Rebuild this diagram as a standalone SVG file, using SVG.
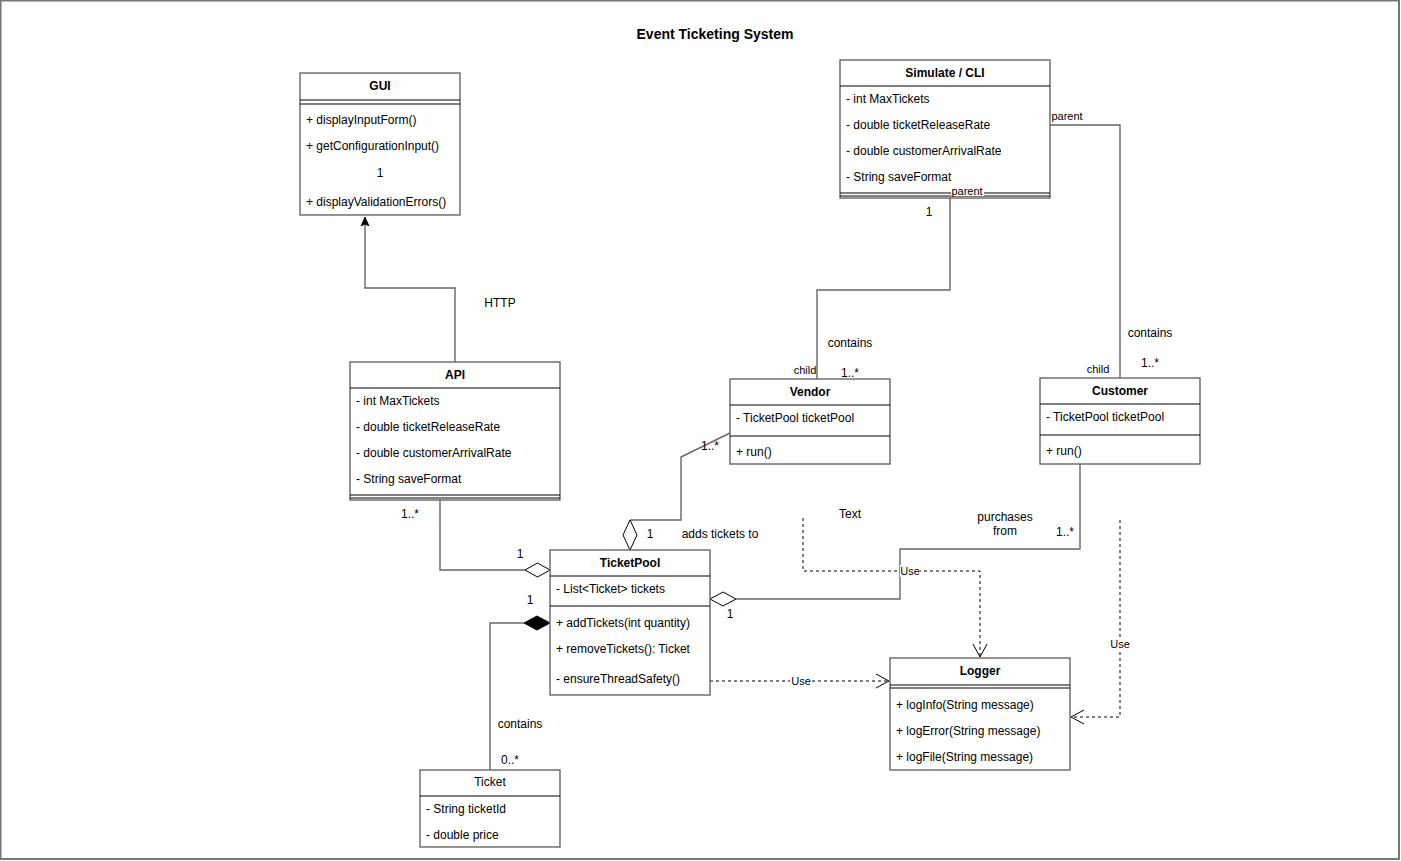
<svg xmlns="http://www.w3.org/2000/svg" width="1401" height="861" viewBox="0 0 1401 861">
  <defs>
    <style>
      text { font-family: "Liberation Sans", Arial, sans-serif; font-size: 12px; fill: #000; dominant-baseline: central; }
      .title { font-size: 14px; font-weight: bold; text-anchor: middle; }
      .hd { font-weight: bold; text-anchor: middle; }
      .mid { text-anchor: middle; }
      .box { fill: #fff; stroke: #666; stroke-width: 1.4; }
      .sep { stroke: #000; stroke-width: 1; }
      .edge { fill: none; stroke: #666; stroke-width: 1.4; }
      .dash { fill: none; stroke: #000; stroke-width: 1; stroke-dasharray: 3 3; }
      .lbg { fill: #fff; }
    </style>
    <marker id="openArrow" markerWidth="16" markerHeight="16" refX="14" refY="8" orient="auto" markerUnits="userSpaceOnUse">
      <path d="M1,1 L14,8 L1,15" fill="none" stroke="#000" stroke-width="1"/>
    </marker>
    <marker id="blockArrow" markerWidth="10" markerHeight="10" refX="9" refY="5" orient="auto" markerUnits="userSpaceOnUse">
      <path d="M0,1 L9,5 L0,9 L2,5 Z" fill="#000" stroke="#000" stroke-width="0.8"/>
    </marker>
  </defs>

  <rect x="0" y="0" width="1401" height="861" fill="#fff"/>
  <rect x="0.5" y="0.5" width="1398.5" height="858.5" fill="none" stroke="#777" stroke-width="2"/>

  <text class="title" x="715" y="34">Event Ticketing System</text>

  <!-- connectors -->
  <g id="connectors">
    <!-- API to GUI (HTTP) -->
    <path class="edge" d="M455,362 L455,288 L365,288 L365,217" marker-end="url(#blockArrow)"/>
    <text class="mid" x="500" y="303">HTTP</text>

    <!-- API aggregated by TicketPool -->
    <path class="edge" d="M440,500 L440,570 L525,570"/>
    <path d="M550,570 L537.5,563 L525,570 L537.5,577 Z" fill="#fff" stroke="#000" stroke-width="1"/>
    <text class="mid" x="410" y="514">1..*</text>
    <text class="mid" x="520" y="554">1</text>

    <!-- Vendor adds tickets to TicketPool -->
    <path class="edge" d="M730,433 L681,457 L681,520 L630,520"/>
    <path d="M630,520 L623,535 L630,550 L637,535 Z" fill="#fff" stroke="#000" stroke-width="1"/>
    <text class="mid" x="710" y="446">1..*</text>
    <text class="mid" x="650" y="534">1</text>
    <text class="mid" x="720" y="534">adds tickets to</text>

    <!-- Simulate/CLI contains Vendor -->
    <path class="edge" d="M950,198 L950,290 L817,290 L817,379"/>
    <text class="mid" x="929" y="212">1</text>
    <text class="mid" x="850" y="343">contains</text>
    <text class="mid" x="805" y="370" style="font-size:11px">child</text>
    <text class="mid" x="850" y="373">1..*</text>

    <!-- Simulate/CLI contains Customer -->
    <path class="edge" d="M1050,125 L1120,125 L1120,378"/>
    <text class="mid" x="1067" y="116" style="font-size:11px">parent</text>
    <text class="mid" x="1150" y="333">contains</text>
    <text class="mid" x="1098" y="369" style="font-size:11px">child</text>
    <text class="mid" x="1150" y="363">1..*</text>

    <!-- Customer purchases from TicketPool -->
    <path class="edge" d="M1080,464 L1080,549 L900,549 L900,599 L736,599"/>
    <path d="M710,599 L723,592 L736,599 L723,606 Z" fill="#fff" stroke="#000" stroke-width="1"/>
    <text class="mid" x="730" y="614">1</text>
    <text class="mid" x="1005" y="517">purchases</text>
    <text class="mid" x="1005" y="531">from</text>
    <text class="mid" x="1065" y="532">1..*</text>

    <!-- TicketPool composes Ticket -->
    <path class="edge" d="M490,770 L490,623 L524,623"/>
    <path d="M550,623 L537,616 L524,623 L537,630 Z" fill="#000" stroke="#000" stroke-width="1"/>
    <text class="mid" x="530" y="600">1</text>
    <text class="mid" x="520" y="724">contains</text>
    <text class="mid" x="510" y="760">0..*</text>

    <!-- TicketPool uses Logger -->
    <path class="dash" d="M710,681 L889,681" marker-end="url(#openArrow)"/>
    <rect class="lbg" x="790" y="675" width="22" height="12"/>
    <text class="mid" x="801" y="681" style="font-size:11px">Use</text>

    <!-- free dependency from Text to Logger -->
    <text class="mid" x="850" y="514">Text</text>
    <path class="dash" d="M803,518 L803,571 L980,571 L980,657" marker-end="url(#openArrow)"/>
    <rect class="lbg" x="900" y="565" width="20" height="12"/>
    <text class="mid" x="910" y="571" style="font-size:11px">Use</text>

    <!-- right dependency to Logger -->
    <path class="dash" d="M1120,520 L1120,717 L1071,717" marker-end="url(#openArrow)"/>
    <rect class="lbg" x="1109" y="638" width="22" height="12"/>
    <text class="mid" x="1120" y="644" style="font-size:11px">Use</text>
  </g>

  <!-- GUI -->
  <g id="gui">
    <rect class="box" x="300" y="73" width="160" height="142"/>
    <text class="hd" x="380" y="86">GUI</text>
    <line class="sep" x1="300" y1="100" x2="460" y2="100"/>
    <line class="sep" x1="300" y1="104" x2="460" y2="104"/>
    <text x="306" y="120">+ displayInputForm()</text>
    <text x="306" y="146">+ getConfigurationInput()</text>
    <text class="mid" x="380" y="173">1</text>
    <text x="306" y="202">+ displayValidationErrors()</text>
  </g>

  <!-- Simulate / CLI -->
  <g id="simulate-cli">
    <rect class="box" x="840" y="60" width="210" height="138"/>
    <text class="hd" x="945" y="73">Simulate / CLI</text>
    <line class="sep" x1="840" y1="86" x2="1050" y2="86"/>
    <text x="846" y="99">- int MaxTickets</text>
    <text x="846" y="125">- double ticketReleaseRate</text>
    <text x="846" y="151">- double customerArrivalRate</text>
    <text x="846" y="177">- String saveFormat</text>
    <line class="sep" x1="840" y1="193" x2="1050" y2="193"/>
    <line class="sep" x1="840" y1="196" x2="1050" y2="196"/>
    <!-- role label of the Vendor association, sitting on the bottom edge -->
    <rect class="lbg" x="951" y="185" width="33" height="11"/>
    <text class="mid" x="967" y="191" style="font-size:11px">parent</text>
  </g>

  <!-- API -->
  <g id="api">
    <rect class="box" x="350" y="362" width="210" height="138"/>
    <text class="hd" x="455" y="375">API</text>
    <line class="sep" x1="350" y1="388" x2="560" y2="388"/>
    <text x="356" y="401">- int MaxTickets</text>
    <text x="356" y="427">- double ticketReleaseRate</text>
    <text x="356" y="453">- double customerArrivalRate</text>
    <text x="356" y="479">- String saveFormat</text>
    <line class="sep" x1="350" y1="495" x2="560" y2="495"/>
    <line class="sep" x1="350" y1="498" x2="560" y2="498"/>
  </g>

  <!-- Vendor -->
  <g id="vendor">
    <rect class="box" x="730" y="379" width="160" height="85"/>
    <text class="hd" x="810" y="392">Vendor</text>
    <line class="sep" x1="730" y1="405" x2="890" y2="405"/>
    <text x="736" y="418">- TicketPool ticketPool</text>
    <line class="sep" x1="730" y1="436" x2="890" y2="436"/>
    <text x="736" y="452">+ run()</text>
  </g>

  <!-- Customer -->
  <g id="customer">
    <rect class="box" x="1040" y="378" width="160" height="86"/>
    <text class="hd" x="1120" y="391">Customer</text>
    <line class="sep" x1="1040" y1="404" x2="1200" y2="404"/>
    <text x="1046" y="417">- TicketPool ticketPool</text>
    <line class="sep" x1="1040" y1="435" x2="1200" y2="435"/>
    <text x="1046" y="451">+ run()</text>
  </g>

  <!-- TicketPool -->
  <g id="ticketpool">
    <rect class="box" x="550" y="550" width="160" height="145"/>
    <text class="hd" x="630" y="563">TicketPool</text>
    <line class="sep" x1="550" y1="576" x2="710" y2="576"/>
    <text x="556" y="589">- List&lt;Ticket&gt; tickets</text>
    <line class="sep" x1="550" y1="606" x2="710" y2="606"/>
    <text x="556" y="623">+ addTickets(int quantity)</text>
    <text x="556" y="649">+ removeTickets(): Ticket</text>
    <text x="556" y="679">- ensureThreadSafety()</text>
  </g>

  <!-- Logger -->
  <g id="logger">
    <rect class="box" x="890" y="658" width="180" height="112"/>
    <text class="hd" x="980" y="671">Logger</text>
    <line class="sep" x1="890" y1="685" x2="1070" y2="685"/>
    <line class="sep" x1="890" y1="688" x2="1070" y2="688"/>
    <text x="896" y="705">+ logInfo(String message)</text>
    <text x="896" y="731">+ logError(String message)</text>
    <text x="896" y="757">+ logFile(String message)</text>
  </g>

  <!-- Ticket -->
  <g id="ticket">
    <rect class="box" x="420" y="770" width="140" height="77"/>
    <text class="mid" x="490" y="782">Ticket</text>
    <line class="sep" x1="420" y1="796" x2="560" y2="796"/>
    <text x="426" y="809">- String ticketId</text>
    <text x="426" y="835">- double price</text>
  </g>
</svg>
